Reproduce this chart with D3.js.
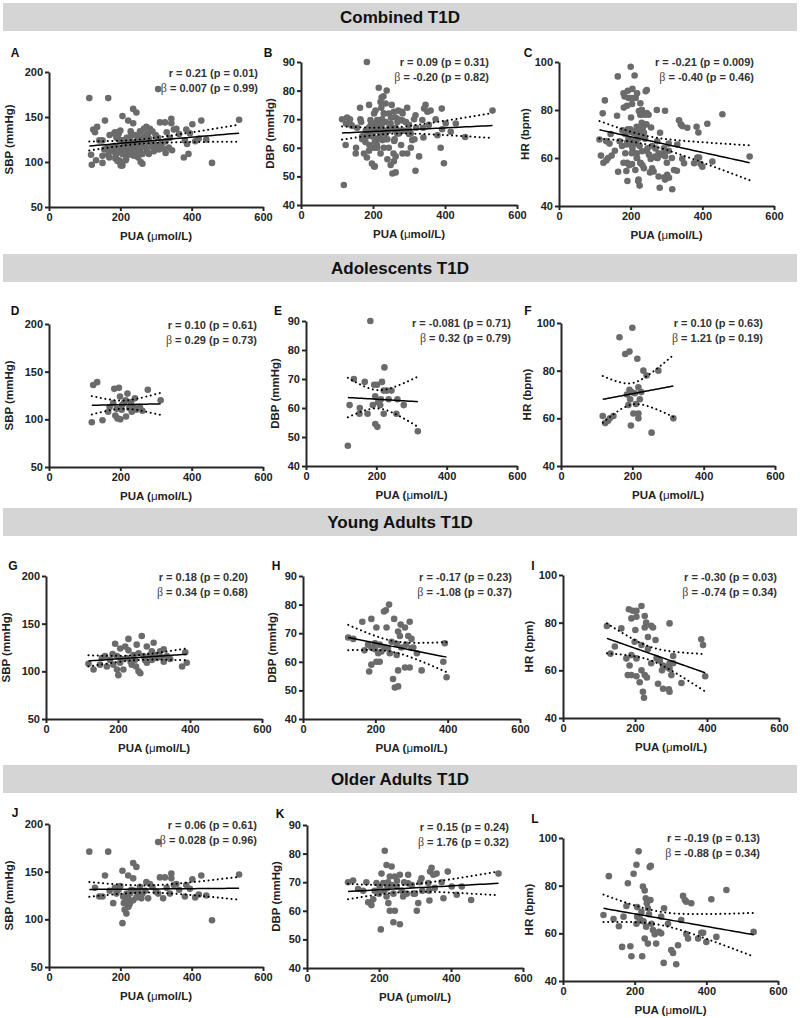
<!DOCTYPE html>
<html lang="en">
<head>
<meta charset="UTF-8" />
<title>PUA vs SBP, DBP and HR in T1D</title>
<script src="https://d3js.org/d3.v7.min.js"></script>
<style>
  body { margin: 0; background: #fff; font-family: Arial, "Liberation Sans", sans-serif; }
  .banner { fill: #d5d5d5; }
  .banner-title { font-size: 17px; font-weight: bold; fill: #111; text-anchor: middle; }
  .axis path, .axis line { stroke: #262626; stroke-width: 2; }
  .axis text { font-family: Arial, "Liberation Sans", sans-serif; font-size: 11px; font-weight: bold; fill: #222; }
  .dot { fill: #6b6b6b; }
  .fit { stroke: #000; stroke-width: 1.5; fill: none; }
  .ci { stroke: #000; stroke-width: 2; stroke-dasharray: 0.1 4.5; stroke-linecap: round; fill: none; }
  .letter { font-size: 12px; font-weight: bold; fill: #111; }
  .stat { font-size: 11px; font-weight: bold; fill: #333; text-anchor: end; }
  .title { font-size: 11.5px; font-weight: bold; fill: #222; text-anchor: middle; }
</style>
</head>
<body>
<div id="chart"></div>
<script>
// ---- data (PUA in umol/L vs outcome) ----
const groupTitles = ["Combined T1D", "Adolescents T1D", "Young Adults T1D", "Older Adults T1D"];
const panelLetters = ["A", "B", "C", "D", "E", "F", "G", "H", "I", "J", "K", "L"];

const adolSbp = [[120,97],[150,99],[124,136],[135,139],[183,132],[196,133],[277,131],[220,127],[241,122],[313,120],[166,108],[180,117],[192,101],[216,103],[204,110],[232,108],[255,113],[210,117],[230,118],[199,124],[186,104],[200,100],[225,112],[245,110],[262,109],[170,113],[205,115],[215,120],[238,113],[190,111]];
const youngSbp = [[118,108],[132,102],[150,107],[155,114],[164,116],[169,105],[178,112],[187,107],[192,129],[197,116],[197,102],[201,96],[206,109],[206,124],[215,102],[220,126],[224,114],[229,122],[229,134],[238,107],[243,117],[247,112],[252,128],[257,119],[257,100],[262,98],[266,137],[271,116],[280,109],[280,126],[289,117],[294,112],[294,121],[299,130],[303,117],[308,114],[317,121],[327,110],[327,123],[336,116],[378,105],[387,120],[391,109],[210,113],[235,110],[275,112],[185,118],[250,105],[320,115],[345,113]];
const olderSbp = [[113,171],[166,171],[306,181],[129,133],[141,124],[157,146],[180,117],[189,127],[206,151],[206,96],[208,124],[210,117],[217,106],[222,146],[222,113],[222,122],[227,127],[231,131],[236,159],[236,143],[236,120],[245,155],[245,123],[255,134],[259,122],[273,139],[278,122],[283,137],[306,127],[311,144],[320,122],[325,144],[339,127],[343,148],[343,143],[357,137],[381,124],[395,132],[402,142],[427,146],[441,125],[457,99],[533,147],[150,124],[170,130],[195,131],[200,135],[212,110],[215,120],[218,127],[225,115],[228,118],[240,130],[250,128],[262,127],[270,130],[290,134],[300,129],[330,133],[350,136],[365,131],[385,136],[410,123],[420,126],[190,130],[185,133]];

const adolDbp = [[183,90],[119,47],[136,70],[124,61],[153,60],[152,58],[167,69],[194,68],[202,68],[223,74],[216,69],[243,66],[221,66],[197,64],[190,61],[211,61],[221,58],[257,58],[278,61],[235,63],[318,52],[197,54.5],[203,53.5],[205,62],[230,66],[213,63],[175,58],[260,63]];
const youngDbp = [[125,68.5],[139,68],[164,74],[189,75],[203,72],[224,77.6],[238,80],[229,78],[231,72],[252,75],[270,73],[295,74],[282,72],[263,70.6],[268,69],[291,69],[300,68],[305,65],[328,57],[388,60],[392,66.5],[397,54.6],[183,56.6],[189,59],[203,60],[212,60],[249,54],[254,51],[263,51.4],[263,57],[282,58],[295,58],[180,66],[189,65],[199,64.4],[208,63],[217,63.6],[226,65],[235,64.8],[240,63],[199,66.5],[212,66],[259,66.3],[259,62.4],[272,65],[300,64.8],[170,64],[245,67],[285,66],[315,63]];
const olderDbp = [[114,70],[128,70.6],[142,67.6],[156,67],[165,70],[170,63],[179,62],[184,64],[205,53.5],[216,81],[221,76],[235,75.5],[207,73],[212,69.7],[224,68],[230,72],[244,72],[258,72.6],[221,65],[226,62.7],[230,60],[244,60],[240,56],[258,55.3],[263,67],[267,65],[281,69.6],[281,72.6],[277,66],[305,60],[309,62.7],[314,70],[318,71.4],[337,69.7],[342,73.7],[346,75],[351,72.6],[360,73],[339,67],[340,63.6],[374,70],[379,64.4],[391,73.7],[402,68.5],[416,65.6],[430,68.5],[456,63.8],[532,73],[249,68.5],[291,69],[296,66],[202,68.5],[193,69.7],[188,67],[215,67],[235,69],[250,70.5],[200,66],[225,70],[240,66],[270,70],[300,66],[320,67],[355,68]];

const adolHr = [[200,98],[164,94],[180,87],[192,88],[214,85],[231,80],[240,78],[273,80],[117,61],[124,58],[137,60],[147,61],[315,60],[192,72],[198,71],[217,73],[194,68],[221,68],[189,65.6],[203,62],[217,62],[217,60],[196,57],[254,54],[207,70.5],[210,66],[185,70],[225,71],[132,59]];
const youngHr = [[122,78.6],[132,67],[144,70],[162,77.6],[183,85.6],[194,85],[204,85],[218,87],[190,81.8],[204,82.5],[227,82.8],[231,80],[245,78.7],[250,78],[201,76.9],[227,78],[236,74],[257,72.7],[296,79.7],[176,65],[190,66.4],[204,65],[199,72],[218,70.6],[236,69],[180,58],[190,58],[204,57.5],[218,60],[227,58],[213,55],[233,57],[222,51],[225,48.5],[264,54.4],[278,52.3],[294,52],[296,51],[301,58],[269,64],[278,62],[287,61.4],[296,63],[306,63],[296,60.7],[306,66],[329,54.7],[384,73],[389,70.6],[395,57.5],[260,65],[245,63],[185,62],[275,60]];
const olderHr = [[113,67.7],[128,84],[141,66],[156,63],[169,67],[165,54.3],[181,81],[188,54.6],[191,50.4],[177,71.5],[197,85],[205,88.8],[211,94.4],[207,71],[207,67],[205,64],[219,69],[221,50.4],[223,79.6],[228,78],[228,57.8],[231,74.7],[234,72.6],[237,70.5],[232,62.8],[242,87.8],[245,88.3],[244,74],[247,64],[251,61.4],[256,59.6],[260,55.7],[237,55.7],[268,60.6],[274,60],[281,47.6],[282,70.5],[274,67],[293,64],[302,53],[307,51.8],[316,47],[321,55],[330,65.6],[335,75.7],[340,74],[344,73.3],[358,72.6],[344,59.7],[349,57.8],[377,57.8],[386,60.2],[391,60.2],[400,56.4],[414,74.3],[428,58.5],[456,78.2],[532,60.6],[215,66],[225,65],[240,68]];

const statR = ["r = 0.21 (p = 0.01)", "r = 0.09 (p = 0.31)", "r = -0.21 (p = 0.009)",
  "r = 0.10 (p = 0.61)", "r = -0.081 (p = 0.71)", "r = 0.10 (p = 0.63)",
  "r = 0.18 (p = 0.20)", "r = -0.17 (p = 0.23)", "r = -0.30 (p = 0.03)",
  "r = 0.06 (p = 0.61)", "r = 0.15 (p = 0.24)", "r = -0.19 (p = 0.13)"];
const statBeta = [" = 0.007 (p = 0.99)", " = -0.20 (p = 0.82)", " = -0.40 (p = 0.46)",
  " = 0.29 (p = 0.73)", " = 0.32 (p = 0.79)", " = 1.21 (p = 0.19)",
  " = 0.34 (p = 0.68)", " = -1.08 (p = 0.37)", " = -0.74 (p = 0.34)",
  " = 0.028 (p = 0.96)", " = 1.76 (p = 0.32)", " = -0.88 (p = 0.34)"];

const xTicks = [0, 200, 400, 600];
const metrics = [
  { label: "SBP (mmHg)", domain: [50, 200], ticks: [50, 100, 150, 200], titleOffset: 36 },
  { label: "DBP (mmHg)", domain: [40, 90], ticks: [40, 50, 60, 70, 80, 90], titleOffset: 27 },
  { label: "HR (bpm)", domain: [40, 100], ticks: [40, 60, 80, 100], titleOffset: 30 }
];

// rows of panels: combined, adolescents, young, older
const groupData = [
  [adolSbp.concat(youngSbp, olderSbp), adolDbp.concat(youngDbp, olderDbp), adolHr.concat(youngHr, olderHr)],
  [adolSbp, adolDbp, adolHr],
  [youngSbp, youngDbp, youngHr],
  [olderSbp, olderDbp, olderHr]
];

// ---- layout (pixels) ----
const W = 800, H = 1018;
const bannerTop = [3, 254, 508, 765];
// [left, right, top, bottom] of each plot area
const boxes = [
  [49, 263, 72, 207], [301, 517, 62, 205], [559, 774, 62, 206],
  [49, 263, 324, 467], [306, 517, 321, 466], [561, 775, 323, 466],
  [46, 262, 576, 719], [303, 520, 576, 719], [563, 779, 575, 718],
  [49, 263, 824, 967], [307, 523, 825, 968], [563, 778, 838, 981]
];
const letterPos = [[15, 57], [268, 57], [528, 57], [15, 315], [278, 315], [528, 315],
  [13, 570], [276, 570], [533, 570], [15, 817], [280, 818], [535, 823]];
const statPos = [[258, 77], [489, 66], [754, 66], [257, 329], [511, 327], [763, 327],
  [248, 581], [512, 581], [777, 581], [257, 829], [509, 831], [760, 842]];

const svg = d3.select("#chart").append("svg")
  .attr("width", W).attr("height", H);

// group banners
groupTitles.forEach((t, i) => {
  svg.append("rect").attr("class", "banner")
    .attr("x", 3).attr("y", bannerTop[i]).attr("width", 794).attr("height", 28);
  svg.append("text").attr("class", "banner-title")
    .attr("x", W / 2).attr("y", bannerTop[i] + 20).text(t);
});

// simple linear fit with 95% confidence band of the mean
function regression(pts) {
  const n = pts.length;
  const mx = d3.mean(pts, d => d[0]), my = d3.mean(pts, d => d[1]);
  let sxx = 0, sxy = 0;
  pts.forEach(d => { sxx += (d[0] - mx) ** 2; sxy += (d[0] - mx) * (d[1] - my); });
  const b = sxy / sxx, a = my - b * mx;
  let sse = 0;
  pts.forEach(d => { sse += (d[1] - a - b * d[0]) ** 2; });
  const s = Math.sqrt(sse / (n - 2));
  const t = 1.96 + 2.4 / (n - 2);
  const [x0, x1] = d3.extent(pts, d => d[0]);
  return d3.range(41).map(i => {
    const x = x0 + (x1 - x0) * i / 40;
    const yh = a + b * x;
    const se = s * Math.sqrt(1 / n + (x - mx) ** 2 / sxx);
    return { x, y: yh, lo: yh - t * se, hi: yh + t * se };
  });
}

boxes.forEach((box, k) => {
  const row = Math.floor(k / 3), col = k % 3;
  const m = metrics[col];
  const pts = groupData[row][col];
  const [left, right, top, bottom] = box;

  const x = d3.scaleLinear().domain([0, 600]).range([left, right]);
  const y = d3.scaleLinear().domain(m.domain).range([bottom, top]);

  const g = svg.append("g");

  g.append("g").attr("class", "axis")
    .attr("transform", `translate(0,${bottom})`)
    .call(d3.axisBottom(x).tickValues(xTicks).tickSize(4).tickSizeOuter(0).tickPadding(2));
  g.append("g").attr("class", "axis")
    .attr("transform", `translate(${left},0)`)
    .call(d3.axisLeft(y).tickValues(m.ticks).tickSize(4).tickSizeOuter(0).tickPadding(2));

  g.selectAll("circle").data(pts).enter().append("circle")
    .attr("class", "dot")
    .attr("cx", d => x(d[0])).attr("cy", d => y(d[1])).attr("r", 3.3);

  const fit = regression(pts);
  g.append("path").attr("class", "fit")
    .attr("d", d3.line().x(d => x(d.x)).y(d => y(d.y))(fit));
  g.append("path").attr("class", "ci")
    .attr("d", d3.line().curve(d3.curveBasis).x(d => x(d.x)).y(d => y(d.lo))(fit));
  g.append("path").attr("class", "ci")
    .attr("d", d3.line().curve(d3.curveBasis).x(d => x(d.x)).y(d => y(d.hi))(fit));

  // labels
  g.append("text").attr("class", "letter")
    .attr("x", letterPos[k][0]).attr("y", letterPos[k][1])
    .attr("text-anchor", "middle").text(panelLetters[k]);

  g.append("text").attr("class", "stat")
    .attr("x", statPos[k][0]).attr("y", statPos[k][1]).text(statR[k]);
  const beta = g.append("text").attr("class", "stat")
    .attr("x", statPos[k][0]).attr("y", statPos[k][1] + 14.5);
  beta.append("tspan").attr("font-weight", "normal").attr("fill", "#444")
    .attr("font-family", "'Liberation Serif', serif").attr("font-size", 12).text("β");
  beta.append("tspan").text(statBeta[k]);

  g.append("text").attr("class", "title")
    .attr("transform", `translate(${left - m.titleOffset},${(top + bottom) / 2}) rotate(-90)`)
    .text(m.label);

  const xt = g.append("text").attr("class", "title")
    .attr("x", (left + right) / 2).attr("y", bottom + 33);
  xt.append("tspan").text("PUA (");
  xt.append("tspan").attr("font-weight", "normal").text("μ");
  xt.append("tspan").text("mol/L)");
});
</script>
</body>
</html>
